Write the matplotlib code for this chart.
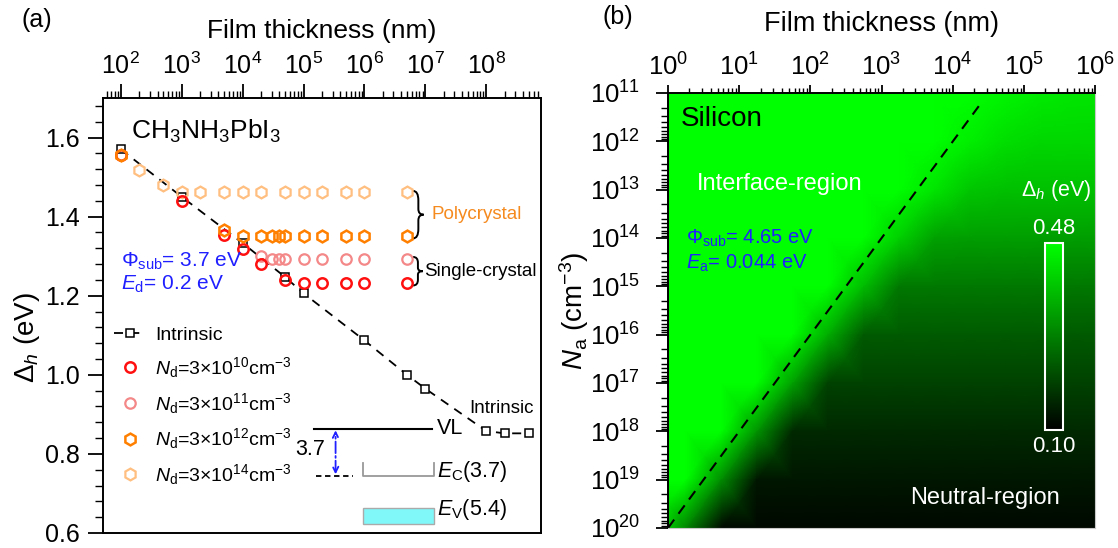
import numpy as np
import matplotlib
matplotlib.use("Agg")
from matplotlib import pyplot as plt
from matplotlib.colors import LinearSegmentedColormap
from matplotlib.path import Path
from matplotlib.patches import PathPatch, Rectangle
from matplotlib.ticker import LogLocator, MultipleLocator, NullFormatter
from matplotlib.transforms import blended_transform_factory

plt.rcParams['font.family'] = ['Liberation Sans', 'DejaVu Sans']
plt.rcParams['mathtext.fontset'] = 'custom'
plt.rcParams['mathtext.rm'] = 'Liberation Sans'
plt.rcParams['mathtext.it'] = 'Liberation Sans:italic'
plt.rcParams['mathtext.bf'] = 'Liberation Sans:bold'
plt.rcParams['mathtext.sf'] = 'Liberation Sans'

# ---- panel (a): CH3NH3PbI3, gap vs film thickness ----
intr_t = [1e2, 1e3, 1e4, 5e4, 1e5, 1e6, 5e6, 1e7, 1e8, 2e8, 5e8]
intr_d = [1.570, 1.450, 1.333, 1.247, 1.206, 1.087, 1.000, 0.965, 0.858, 0.852, 0.852]

nd10_t = [1e2, 1e3, 5e3, 1e4, 2e4, 5e4, 1e5, 2e5, 5e5, 1e6, 5e6]
nd10_d = [1.555, 1.440, 1.353, 1.318, 1.280, 1.240, 1.232, 1.232, 1.232, 1.232, 1.232]

nd11_t = [2e4, 3e4, 4e4, 5e4, 1e5, 2e5, 5e5, 1e6, 5e6]
nd11_d = [1.300, 1.292, 1.292, 1.292, 1.292, 1.292, 1.292, 1.292, 1.292]

nd12_t = [1e2, 5e3, 1e4, 2e4, 3e4, 4e4, 5e4, 1e5, 2e5, 5e5, 1e6, 5e6]
nd12_d = [1.555, 1.366, 1.351, 1.351, 1.351, 1.351, 1.351, 1.351, 1.351, 1.351, 1.351, 1.351]

nd14_t = [2e2, 5e2, 1e3, 2e3, 5e3, 1e4, 2e4, 5e4, 1e5, 2e5, 5e5, 1e6, 5e6]
nd14_d = [1.517, 1.480, 1.462, 1.462, 1.462, 1.462, 1.462, 1.462, 1.462, 1.462, 1.462, 1.462, 1.462]

top_ticks_a = [1e2, 1e3, 1e4, 1e5, 1e6, 1e7, 1e8]
top_ticks_b = [1e0, 1e1, 1e2, 1e3, 1e4, 1e5, 1e6]
left_ticks_b = [1e11, 1e12, 1e13, 1e14, 1e15, 1e16, 1e17, 1e18, 1e19, 1e20]

# ---- panel (b): Silicon map, Delta_h (eV) read per decade of Na ----
map_logt = [-0.25, 0.25, 0.75, 1.25, 1.75, 2.25, 2.75, 3.25, 3.75, 4.25, 4.75, 5.25, 5.75, 6.25]
map_logna = [11, 12, 13, 14, 15, 16, 17, 18, 19, 20]
map_delta = [
    [0.48, 0.48, 0.48, 0.48, 0.48, 0.48, 0.48, 0.48, 0.48, 0.48, 0.465, 0.45, 0.442, 0.44],
    [0.48, 0.48, 0.48, 0.48, 0.48, 0.48, 0.48, 0.48, 0.48, 0.455, 0.43, 0.42, 0.42, 0.42],
    [0.48, 0.48, 0.48, 0.48, 0.48, 0.48, 0.48, 0.48, 0.44, 0.395, 0.386, 0.386, 0.386, 0.386],
    [0.48, 0.48, 0.48, 0.48, 0.48, 0.48, 0.48, 0.41, 0.34, 0.335, 0.335, 0.335, 0.335, 0.335],
    [0.48, 0.48, 0.48, 0.48, 0.48, 0.48, 0.38, 0.279, 0.279, 0.279, 0.279, 0.279, 0.279, 0.279],
    [0.48, 0.48, 0.48, 0.48, 0.48, 0.357, 0.234, 0.234, 0.234, 0.234, 0.234, 0.234, 0.234, 0.234],
    [0.48, 0.48, 0.48, 0.48, 0.34, 0.197, 0.197, 0.197, 0.197, 0.197, 0.197, 0.197, 0.197, 0.197],
    [0.48, 0.48, 0.48, 0.32, 0.160, 0.160, 0.160, 0.160, 0.160, 0.160, 0.160, 0.160, 0.160, 0.160],
    [0.48, 0.48, 0.31, 0.133, 0.133, 0.133, 0.133, 0.133, 0.133, 0.133, 0.133, 0.133, 0.133, 0.133],
    [0.48, 0.30, 0.112, 0.112, 0.112, 0.112, 0.112, 0.112, 0.112, 0.112, 0.112, 0.112, 0.112, 0.112],
]
# dashed boundary line (thickness, Na)
bound_t = [1.0, 2.6e4]
bound_na = [1e20, 1.5e11]

BLUE = '#1f1fff'


def brace(ax, x, y0, y1, w, color='black'):
    """Draw a right-pointing curly brace; x in axes fraction, y in data."""
    h = y1 - y0
    ym = (y0 + y1) / 2
    xm = x + w / 2
    verts = [(x, y1), (xm, y1), (xm, y1 - 0.2 * h), (xm, ym + 0.12 * h),
             (xm, ym), (x + w, ym), (xm, ym), (xm, ym - 0.12 * h),
             (xm, y0 + 0.2 * h), (xm, y0), (x, y0)]
    codes = [Path.MOVETO, Path.CURVE3, Path.CURVE3, Path.LINETO,
             Path.CURVE3, Path.CURVE3, Path.CURVE3, Path.CURVE3,
             Path.LINETO, Path.CURVE3, Path.CURVE3]
    trans = blended_transform_factory(ax.transAxes, ax.transData)
    ax.add_patch(PathPatch(Path(verts, codes), fill=False, lw=1.4,
                           edgecolor=color, transform=trans, clip_on=False))


fig = plt.figure(figsize=(11.18, 5.48), dpi=100)

# ================= panel (a) =================
ax = fig.add_axes([103 / 1118, 15 / 548, 438 / 1118, 435 / 548])
ax.set_xscale('log')
ax.set_xlim(10 ** 1.706, 10 ** 8.9)
ax.set_ylim(0.6, 1.70)

ax.plot(intr_t, intr_d, ls=(0, (5, 4)), color='black', lw=1.3,
        marker='s', ms=5.5, mfc='white', mec='black', mew=1.1,
        label='Intrinsic', zorder=2)
ax.plot(nd14_t, nd14_d, ls='none', marker='h', ms=8.5, mfc='none',
        mec='#ffbf80', mew=1.6, label=r'$N_{\rm d}$=3×10$^{14}$cm$^{-3}$', zorder=3)
ax.plot(nd12_t, nd12_d, ls='none', marker='h', ms=8.5, mfc='none',
        mec='#ff8000', mew=1.8, label=r'$N_{\rm d}$=3×10$^{12}$cm$^{-3}$', zorder=4)
ax.plot(nd11_t, nd11_d, ls='none', marker='o', ms=7.5, mfc='none',
        mec='#f48888', mew=1.6, label=r'$N_{\rm d}$=3×10$^{11}$cm$^{-3}$', zorder=3)
ax.plot(nd10_t, nd10_d, ls='none', marker='o', ms=7.5, mfc='none',
        mec='#ff1010', mew=1.8, label=r'$N_{\rm d}$=3×10$^{10}$cm$^{-3}$', zorder=3)

handles, labels = ax.get_legend_handles_labels()
order = [0, 4, 3, 2, 1]
ax.legend([handles[i] for i in order], [labels[i] for i in order],
          loc='upper left', bbox_to_anchor=(0.025, 0.475), frameon=False,
          fontsize=14, handlelength=1.6, handletextpad=0.5,
          labelspacing=0.56, borderpad=0, borderaxespad=0, numpoints=1)

ax.xaxis.tick_top()
ax.xaxis.set_label_position('top')
ax.set_xlabel('Film thickness (nm)', fontsize=19, labelpad=10)
ax.set_xticks(top_ticks_a)
ax.xaxis.set_minor_locator(LogLocator(base=10, subs=np.arange(2, 10), numticks=100))
ax.xaxis.set_minor_formatter(NullFormatter())
ax.set_yticks([0.6, 0.8, 1.0, 1.2, 1.4, 1.6])
ax.set_yticklabels(['0.6', '0.8', '1.0', '1.2', '1.4', '1.6'])
ax.yaxis.set_minor_locator(MultipleLocator(0.04))
ax.tick_params(axis='x', which='major', direction='out', length=10, width=1.3,
               labelsize=18, pad=4, top=True, bottom=False)
ax.tick_params(axis='x', which='minor', direction='out', length=5, width=1.0,
               top=True, bottom=False)
ax.tick_params(axis='y', which='major', direction='out', length=11, width=1.3,
               labelsize=18, pad=6, right=False)
ax.tick_params(axis='y', which='minor', direction='out', length=6, width=1.0, right=False)
ax.set_ylabel(r'$\mathit{\Delta}_h$ (eV)', fontsize=20)
ax.yaxis.set_label_coords(-0.14, 0.45)
for s in ax.spines.values():
    s.set_linewidth(1.4)

ax.text(0.065, 0.924, r'CH$_3$NH$_3$PbI$_3$', transform=ax.transAxes,
        fontsize=19, va='center', ha='left')
ax.text(0.041, 0.624, r'$\Phi_{\rm sub}$= 3.7 eV', transform=ax.transAxes,
        fontsize=15, color=BLUE, va='center')
ax.text(0.041, 0.571, r'$E_{\rm d}$= 0.2 eV', transform=ax.transAxes,
        fontsize=15, color=BLUE, va='center')

mixed = blended_transform_factory(ax.transAxes, ax.transData)
brace(ax, 0.708, 1.345, 1.465, 0.024)
ax.text(0.750, 1.405, 'Polycrystal', transform=mixed,
        fontsize=13.5, color='#f58a1f', va='center')
brace(ax, 0.708, 1.226, 1.298, 0.022)
ax.text(0.733, 1.262, 'Single-crystal', transform=mixed,
        fontsize=13.5, color='black', va='center')
ax.text(0.837, 0.286, 'Intrinsic', transform=ax.transAxes, fontsize=13.5, va='center')

# energy level sketch
ax.plot([0.482, 0.751], [0.240, 0.240], color='black', lw=1.5, transform=ax.transAxes)
ax.text(0.763, 0.240, 'VL', transform=ax.transAxes, fontsize=15.5, va='center')
ax.plot([0.486, 0.571], [0.131, 0.131], color='black', lw=1.3, ls=(0, (3, 2)),
        transform=ax.transAxes)
ax.annotate('', xy=(0.531, 0.236), xytext=(0.531, 0.135), xycoords='axes fraction',
            arrowprops=dict(arrowstyle='<->', color=BLUE, lw=1.3, ls='-.',
                            shrinkA=0, shrinkB=0))
ax.text(0.508, 0.191, '3.7', transform=ax.transAxes, fontsize=15.5, va='center', ha='right')
ax.plot([0.594, 0.594, 0.755, 0.755], [0.162, 0.130, 0.130, 0.162], color='#999999',
        lw=1.3, transform=ax.transAxes)
ax.text(0.763, 0.141, r'$E_{\rm C}$(3.7)', transform=ax.transAxes, fontsize=15.5, va='center')
ax.add_patch(Rectangle((0.594, 0.021), 0.161, 0.036, transform=ax.transAxes,
                       facecolor='#80f8fa', edgecolor='#aaaaaa', lw=1.0))
ax.text(0.763, 0.053, r'$E_{\rm V}$(5.4)', transform=ax.transAxes, fontsize=15.5, va='center')

fig.text(21 / 1118, 1 - 20 / 548, '(a)', fontsize=18, va='center', ha='left')

# ================= panel (b) =================
bx = fig.add_axes([668 / 1118, 20 / 548, 427 / 1118, 435 / 548])
bx.set_xscale('log')
bx.set_yscale('log')
cmap = LinearSegmentedColormap.from_list('blkgreen', ['#000000', '#00ff00'])
tt, nn = np.meshgrid(10.0 ** np.array(map_logt), 10.0 ** np.array(map_logna))
mesh = bx.pcolormesh(tt, nn, np.array(map_delta), shading='gouraud', cmap=cmap,
                     vmin=0.10, vmax=0.48, rasterized=True)
bx.plot(bound_t, bound_na, color='black', lw=1.5, ls=(0, (5, 3.5)))
bx.set_xlim(1, 1e6)
bx.set_ylim(1e20, 1e11)

bx.xaxis.tick_top()
bx.xaxis.set_label_position('top')
bx.set_xlabel('Film thickness (nm)', fontsize=19.5, labelpad=16)
bx.set_ylabel(r'$N_{\rm a}$ (cm$^{-3}$)', fontsize=20)
bx.yaxis.set_label_coords(-0.18, 0.50)
bx.set_xticks(top_ticks_b)
bx.set_yticks(left_ticks_b)
for axis in (bx.xaxis, bx.yaxis):
    axis.set_minor_locator(LogLocator(base=10, subs=np.arange(2, 10), numticks=100))
    axis.set_minor_formatter(NullFormatter())
bx.tick_params(axis='x', which='major', direction='out', length=6, width=1.3,
               labelsize=18.5, pad=3, top=True, bottom=False)
bx.tick_params(axis='x', which='minor', direction='out', length=3.5, width=1.0,
               top=True, bottom=False)
bx.tick_params(axis='y', which='major', direction='out', length=9, width=1.3,
               labelsize=18.5, pad=11, right=False)
bx.tick_params(axis='y', which='minor', direction='out', length=5, width=1.0, right=False)
bx.spines['left'].set_linewidth(1.4)
bx.spines['top'].set_linewidth(1.4)
bx.spines['right'].set_color('#c8c8c8')
bx.spines['bottom'].set_color('#c8c8c8')

bx.text(0.03, 0.94, 'Silicon', transform=bx.transAxes, fontsize=20, va='center')
bx.text(0.068, 0.790, 'Interface-region', transform=bx.transAxes, fontsize=17,
        color='white', va='center')
bx.text(0.042, 0.667, r'$\Phi_{\rm sub}$= 4.65 eV', transform=bx.transAxes,
        fontsize=14.5, color=BLUE, va='center')
bx.text(0.042, 0.609, r'$E_{\rm a}$= 0.044 eV', transform=bx.transAxes,
        fontsize=14.5, color=BLUE, va='center')
bx.text(0.568, 0.069, 'Neutral-region', transform=bx.transAxes, fontsize=17,
        color='white', va='center')

cax = fig.add_axes([1045 / 1118, 118 / 548, 18 / 1118, 187 / 548])
cb = fig.colorbar(mesh, cax=cax)
cb.set_ticks([])
cb.outline.set_edgecolor('white')
cb.outline.set_linewidth(1.5)
fig.text(1054 / 1118, 1 - 229 / 548, '0.48', color='white', fontsize=16,
         ha='center', va='center')
fig.text(1054 / 1118, 1 - 446 / 548, '0.10', color='white', fontsize=16,
         ha='center', va='center')
fig.text(1056 / 1118, 1 - 190 / 548, r'$\mathit{\Delta}_h$ (eV)', color='white',
         fontsize=15.5, ha='center', va='center')

fig.text(602 / 1118, 1 - 17 / 548, '(b)', fontsize=18, va='center', ha='left')

fig.savefig('out.png', dpi=100)
